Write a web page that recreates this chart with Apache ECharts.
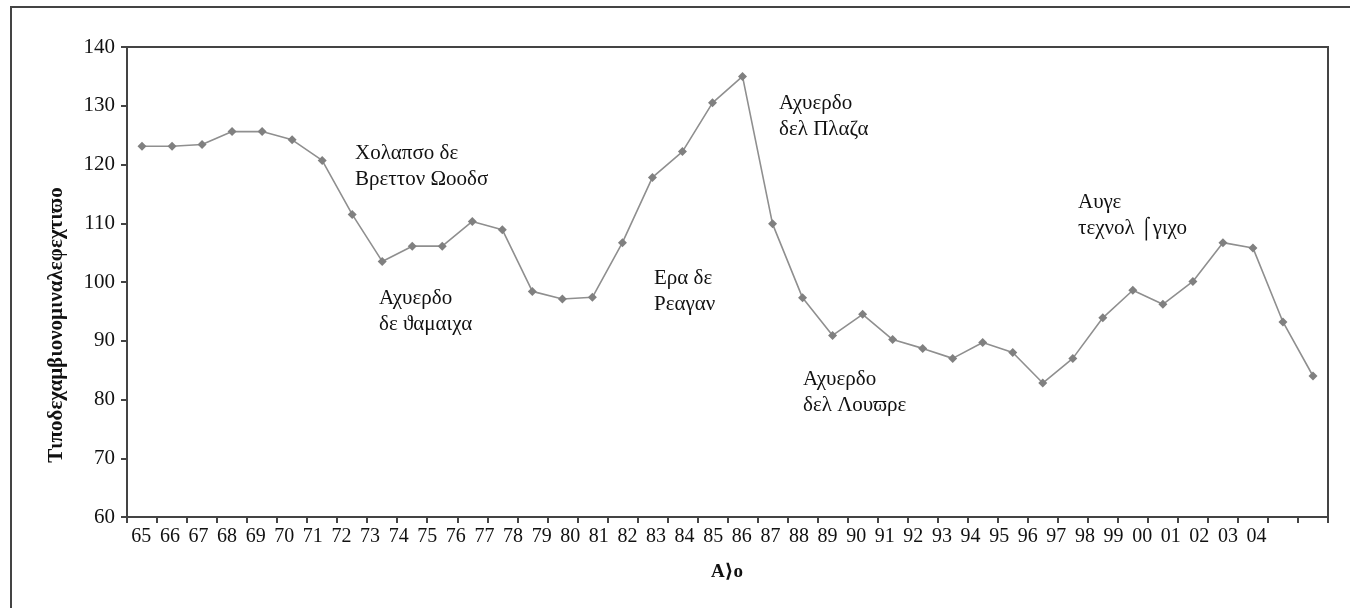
<!DOCTYPE html>
<html>
<head>
<meta charset="utf-8">
<title>Τιποδεχαμβιονομιναλεφεχτιϖο</title>
<script src="https://cdn.jsdelivr.net/npm/echarts@6/dist/echarts.min.js"></script>
<style>
  html, body { margin: 0; padding: 0; background: #ffffff; }
  #chart { width: 1350px; height: 608px; }
</style>
</head>
<body>
<div id="chart"></div>
<script>
// Years (two-digit) for each observation
const years = ['65','66','67','68','69','70','71','72','73','74','75','76','77','78','79',
  '80','81','82','83','84','85','86','87','88','89','90','91','92','93','94','95','96',
  '97','98','99','00','01','02','03','04'];

// Index values per year
const indexValues = [123.1,123.1,123.4,125.6,125.6,124.2,120.7,111.5,103.5,106.1,
  106.1,110.3,108.9,98.4,97.1,97.4,106.7,117.8,122.2,130.5,
  135.0,109.9,97.3,90.9,94.5,90.2,88.7,87.0,89.7,88.0,
  82.8,87.0,93.9,98.6,96.2,100.1,106.7,105.8,93.2,84.0];

// Printed tick labels along the bottom (two trailing blank slots)
const tickLabels = years.concat(['', '']);

// Period notes
const notes = [
  { text: 'Χολαπσο δε\nΒρεττον Ωοοδσ', x: 355, y: 166 },
  { text: 'Αχυερδο\nδε ϑαμαιχα', x: 379, y: 311 },
  { text: 'Ερα δε\nΡεαγαν', x: 654, y: 291 },
  { text: 'Αχυερδο\nδελ Πλαζα', x: 779, y: 116 },
  { text: 'Αχυερδο\nδελ Λουϖρε', x: 803, y: 392 },
  { text: 'Αυγε\nτεχνολ ⌠γιχο', x: 1078, y: 215 }
];

const yTitle = 'Τιποδεχαμβιονομιναλεφεχτιϖο';
const xTitle = 'Α⟩ο';

const SERIF = '"Liberation Serif", "Times New Roman", "DejaVu Serif", serif';
const INK = '#111111';
const AXIS = '#444444';

const chart = echarts.init(document.getElementById('chart'), null, { renderer: 'canvas' });

const graphics = [
  {
    type: 'rect', silent: true, z: 0,
    shape: { x: 11, y: 7, width: 1400, height: 700 },
    style: { fill: 'none', stroke: AXIS, lineWidth: 2 }
  },
  {
    type: 'text', silent: true, z: 10,
    x: 57, y: 325, rotation: Math.PI / 2,
    style: {
      text: yTitle, font: 'bold 21px ' + SERIF, fill: INK,
      align: 'center', verticalAlign: 'middle'
    }
  },
  {
    type: 'text', silent: true, z: 10,
    x: 727, y: 572,
    style: {
      text: xTitle, font: 'bold 19px ' + SERIF, fill: INK,
      align: 'center', verticalAlign: 'middle'
    }
  }
].concat(notes.map(n => ({
  type: 'text', silent: true, z: 10,
  x: n.x, y: n.y,
  style: {
    text: n.text, font: '21px ' + SERIF, fill: INK,
    lineHeight: 26, align: 'left', verticalAlign: 'middle'
  }
})));

chart.setOption({
  animation: false,
  backgroundColor: '#ffffff',
  grid: {
    left: 127, right: 22, top: 47, bottom: 91,
    show: true, borderColor: AXIS, borderWidth: 2, backgroundColor: 'transparent'
  },
  xAxis: [
    {
      type: 'category',
      data: years,
      boundaryGap: true,
      axisLine: { show: true, lineStyle: { color: AXIS, width: 2 } },
      axisTick: { show: true, inside: false, length: 6, lineStyle: { color: AXIS, width: 2 } },
      axisLabel: { show: false },
      splitLine: { show: false }
    },
    {
      type: 'category',
      data: tickLabels,
      position: 'bottom',
      boundaryGap: true,
      axisLine: { show: false },
      axisTick: { show: false },
      axisLabel: {
        show: true, interval: 0, margin: 10,
        fontFamily: SERIF, fontSize: 20, color: INK
      },
      splitLine: { show: false }
    }
  ],
  yAxis: {
    type: 'value',
    min: 60, max: 140, interval: 10,
    axisLine: { show: true, lineStyle: { color: AXIS, width: 2 } },
    axisTick: { show: true, inside: false, length: 6, lineStyle: { color: AXIS, width: 2 } },
    axisLabel: { margin: 12, fontFamily: SERIF, fontSize: 21, color: INK },
    splitLine: { show: false }
  },
  series: [
    {
      type: 'line',
      xAxisIndex: 0,
      data: indexValues,
      symbol: 'diamond',
      symbolSize: 9,
      showSymbol: true,
      lineStyle: { color: '#8f8f8f', width: 1.6 },
      itemStyle: { color: '#808080' },
      emphasis: { disabled: true }
    }
  ],
  graphic: graphics
});
</script>
</body>
</html>
